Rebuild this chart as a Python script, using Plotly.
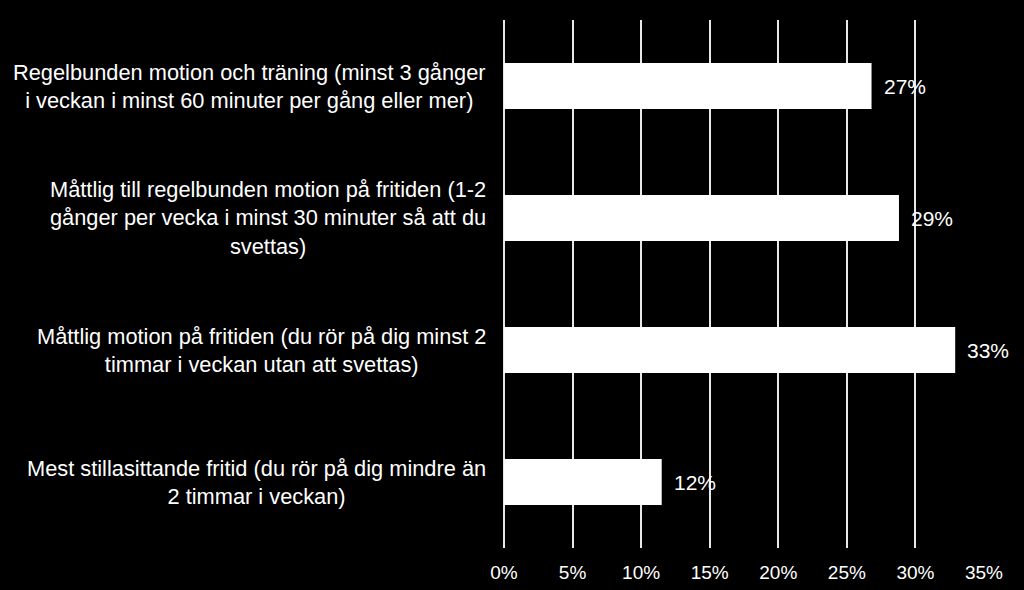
import plotly.graph_objects as go

categories = [
    "Regelbunden motion och träning (minst 3 gånger<br>i veckan i minst 60 minuter per gång eller mer)",
    "Måttlig till regelbunden motion på fritiden (1-2<br>gånger per vecka i minst 30 minuter så att du<br>svettas)",
    "Måttlig motion på fritiden (du rör på dig minst 2<br>timmar i veckan utan att svettas)",
    "Mest stillasittande fritid (du rör på dig mindre än<br>2 timmar i veckan)",
]
values = [26.8, 28.8, 32.9, 11.5]
tick_vals = [0, 5, 10, 15, 20, 25, 30, 35]
tick_text = ["0%", "5%", "10%", "15%", "20%", "25%", "30%", "35%"]

FONT = "Liberation Sans, Arial, sans-serif"

fig = go.Figure()
fig.add_trace(go.Bar(
    x=values, y=categories, orientation="h",
    marker=dict(color="white", line=dict(width=0)),
    hoverinfo="skip",
))

annotations = []
for c, v in zip(categories, values):
    annotations.append(dict(
        x=v, y=c, xref="x", yref="y", text=f"{round(v)}%",
        showarrow=False, xanchor="left", yanchor="middle", xshift=10,
        font=dict(family=FONT, size=21, color="white"),
    ))
    annotations.append(dict(
        x=0, y=c, xref="paper", yref="y", text=c,
        showarrow=False, xanchor="right", yanchor="middle", xshift=-16,
        align="center",
        font=dict(family=FONT, size=21.8, color="white"),
    ))

fig.update_layout(
    width=1024, height=590,
    paper_bgcolor="black", plot_bgcolor="black",
    margin=dict(l=504, r=40, t=20, b=42, autoexpand=False),
    bargap=0.65,
    showlegend=False,
    annotations=annotations,
    xaxis=dict(
        range=[0, 35], tickvals=tick_vals, ticktext=tick_text,
        showgrid=True, gridcolor="#e8e8e8", gridwidth=2,
        zeroline=True, zerolinecolor="#e8e8e8", zerolinewidth=2,
        showline=False, ticks="", ticklabelstandoff=11, automargin=False,
        tickfont=dict(family=FONT, size=19, color="white"),
        fixedrange=True,
    ),
    yaxis=dict(
        autorange="reversed", showticklabels=False, showgrid=False,
        zeroline=False, showline=False, ticks="", fixedrange=True,
        automargin=False,
    ),
)

fig.write_html(
    "out.html",
    config={"displayModeBar": False},
    post_script="document.body.style.margin='0';document.body.style.background='black';document.body.style.overflow='hidden';",
)
